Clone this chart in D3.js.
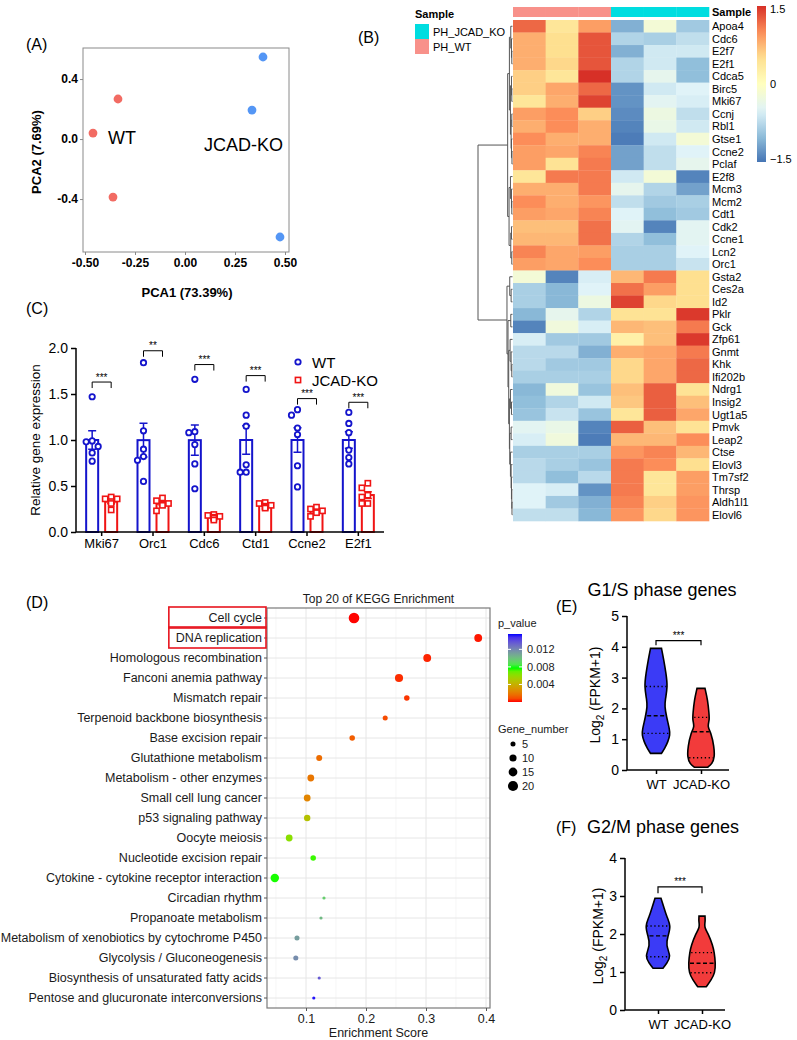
<!DOCTYPE html>
<html>
<head>
<meta charset="utf-8">
<script src="https://cdn.jsdelivr.net/npm/d3@7"></script>
<style>
body { margin: 0; background: #fff; }
svg { display: block; font-family: "Liberation Sans", Arial, sans-serif; }
</style>
</head>
<body>
<svg width="797" height="1040"></svg>
<script>
// ---------------- data ----------------
// (A) PCA scores
let pcaWT_pc1 = [-0.46, -0.335, -0.36];
let pcaWT_pc2 = [0.04, 0.267, -0.387];
let pcaKO_pc1 = [0.39, 0.335, 0.475];
let pcaKO_pc2 = [0.547, 0.193, -0.653];
let pcaTicksX = [-0.5, -0.25, 0, 0.25, 0.5];
let pcaTicksY = [-0.4, 0, 0.4];

// (B) heatmap (z-scores), columns: WT x3, KO x3
let hmGenes = ["Apoa4","Cdc6","E2f7","E2f1","Cdca5","Birc5","Mki67","Ccnj","Rbl1","Gtse1",
  "Ccne2","Pclaf","E2f8","Mcm3","Mcm2","Cdt1","Cdk2","Ccne1","Lcn2","Orc1",
  "Gsta2","Ces2a","Id2","Pklr","Gck","Zfp61","Gnmt","Khk","Ifi202b","Ndrg1",
  "Insig2","Ugt1a5","Pmvk","Leap2","Ctse","Elovl3","Tm7sf2","Thrsp","Aldh1l1","Elovl6"];
let hmSamples = ["PH_WT","PH_WT","PH_WT","PH_JCAD_KO","PH_JCAD_KO","PH_JCAD_KO"];
let hmValues = [
  [1.2, 0.4, 0.9, -1.1, -0.2, -0.9],
  [0.8, 0.5, 1.3, -0.8, -0.85, -0.7],
  [0.8, 0.5, 1.3, -1.1, -0.6, -0.6],
  [0.8, 0.55, 1.3, -0.8, -0.6, -1.0],
  [0.6, 0.4, 1.5, -0.8, -0.4, -1.0],
  [0.6, 0.85, 1.2, -1.3, -0.6, -0.5],
  [0.4, 0.8, 1.4, -1.3, -0.45, -0.55],
  [0.9, 1.0, 0.6, -1.35, -0.3, -0.7],
  [0.8, 1.0, 0.8, -1.4, -0.35, -0.6],
  [1.0, 0.8, 0.8, -1.45, -0.6, -0.2],
  [0.9, 0.85, 1.05, -1.2, -0.7, -0.5],
  [0.9, 0.45, 1.1, -1.2, -0.7, -0.4],
  [0.4, 1.1, 1.1, -0.6, -0.2, -1.4],
  [0.8, 0.8, 1.1, -0.4, -0.8, -1.2],
  [1.0, 0.8, 0.95, -0.7, -0.9, -0.85],
  [0.9, 0.85, 1.05, -0.5, -1.0, -0.9],
  [0.7, 0.7, 1.15, -0.45, -1.4, -0.45],
  [0.75, 0.75, 1.15, -0.8, -1.0, -0.45],
  [1.05, 0.85, 0.9, -0.85, -0.85, -0.5],
  [0.9, 0.85, 1.0, -0.85, -0.85, -0.65],
  [-0.2, -1.4, -0.55, 0.75, 1.1, 0.5],
  [-0.85, -1.05, -0.5, 1.15, 0.9, 0.5],
  [-0.85, -1.05, -0.3, 1.4, 0.55, 0.5],
  [-1.05, -0.4, -0.8, 0.45, 0.45, 1.45],
  [-1.4, -0.25, -0.55, 0.75, 0.7, 1.1],
  [-0.55, -0.9, -0.9, 0.25, 0.7, 1.45],
  [-0.75, -0.75, -1.1, 0.8, 0.85, 1.1],
  [-0.75, -0.9, -0.9, 0.55, 0.85, 1.2],
  [-0.85, -0.85, -0.85, 0.55, 0.85, 1.2],
  [-1.05, -0.25, -0.95, 0.7, 1.25, 0.45],
  [-1.0, -0.8, -0.6, 0.65, 1.25, 0.7],
  [-0.95, -0.65, -0.95, 0.4, 1.25, 0.85],
  [-0.45, -0.35, -1.4, 1.25, 0.7, 0.45],
  [-0.55, -0.25, -1.45, 0.75, 0.75, 1.0],
  [-0.85, -0.85, -0.85, 0.95, 1.05, 0.75],
  [-0.75, -0.85, -0.95, 1.1, 1.0, 0.5],
  [-0.75, -1.0, -0.75, 1.1, 0.4, 0.9],
  [-0.5, -0.55, -1.3, 1.1, 0.4, 0.9],
  [-0.5, -0.9, -1.1, 1.05, 0.6, 0.95],
  [-0.7, -0.7, -1.05, 0.95, 0.55, 0.95]
];
// row dendrogram: [height, left, right]
let hmTreeTop = [1.4,
  [0.9,
    [0.5, "Apoa4", [0.3, "Cdc6", [0.2, "E2f7", "E2f1"]]],
    [0.6, [0.3, "Cdca5", [0.2, "Birc5", "Mki67"]],
          [0.4, [0.2, "Ccnj", "Rbl1"], [0.3, "Gtse1", [0.15, "Ccne2", "Pclaf"]]]]],
  [1.0,
    [0.6, "E2f8", [0.3, "Mcm3", [0.2, "Mcm2", "Cdt1"]]],
    [0.5, [0.3, "Cdk2", "Ccne1"], [0.2, "Lcn2", "Orc1"]]]];
let hmTreeBottom = [1.6,
  [0.8, "Gsta2", [0.4, "Ces2a", "Id2"]],
  [1.3,
    [0.5, "Pklr", "Gck"],
    [1.1,
      [0.7, "Zfp61", [0.4, "Gnmt", [0.2, "Khk", "Ifi202b"]]],
      [0.9,
        [0.6, "Ndrg1", [0.3, "Insig2", "Ugt1a5"]],
        [0.8, [0.4, "Pmvk", "Leap2"],
              [0.6, "Ctse", [0.4, "Elovl3", [0.3, "Tm7sf2", [0.2, "Thrsp", [0.15, "Aldh1l1", "Elovl6"]]]]]]]]]];
let hmTree = [10, hmTreeTop, hmTreeBottom];

// (C) qPCR relative expression
let qpcrGenes = ["Mki67", "Orc1", "Cdc6", "Ctd1", "Ccne2", "E2f1"];
let qpcrWT = [
  [1.47, 0.99, 0.98, 0.93, 0.86, 0.77],
  [1.84, 1.10, 0.90, 0.82, 0.78, 0.55],
  [1.66, 1.09, 1.08, 0.95, 0.74, 0.47],
  [1.55, 1.27, 1.15, 0.73, 0.65, 0.65],
  [1.33, 1.27, 1.13, 1.06, 0.72, 0.49],
  [1.30, 1.18, 1.08, 0.89, 0.81, 0.74]
];
let qpcrKO = [
  [0.38, 0.36, 0.36, 0.33, 0.31, 0.24],
  [0.37, 0.34, 0.31, 0.30, 0.29, 0.23],
  [0.19, 0.18, 0.17, 0.16, 0.15, 0.13],
  [0.32, 0.31, 0.29, 0.28, 0.27, 0.26],
  [0.27, 0.25, 0.23, 0.22, 0.21, 0.17],
  [0.53, 0.48, 0.40, 0.38, 0.31, 0.31]
];
let qpcrSig = ["***", "**", "***", "***", "***", "***"];
let qpcrSigY = [1.63, 1.97, 1.82, 1.70, 1.45, 1.41];
let qpcrTicks = [0, 0.5, 1.0, 1.5, 2.0];

// (D) KEGG enrichment
let keggTerms = ["Cell cycle", "DNA replication", "Homologous recombination", "Fanconi anemia pathway",
  "Mismatch repair", "Terpenoid backbone biosynthesis", "Base excision repair", "Glutathione metabolism",
  "Metabolism - other enzymes", "Small cell lung cancer", "p53 signaling pathway", "Oocyte meiosis",
  "Nucleotide excision repair", "Cytokine - cytokine receptor interaction", "Circadian rhythm",
  "Propanoate metabolism", "Metabolism of xenobiotics by cytochrome P450", "Glycolysis / Gluconeogenesis",
  "Biosynthesis of unsaturated fatty acids", "Pentose and glucuronate interconversions"];
let keggScore = [0.18, 0.387, 0.302, 0.255, 0.268, 0.232, 0.177, 0.122, 0.108, 0.102,
  0.102, 0.072, 0.112, 0.048, 0.13, 0.125, 0.085, 0.083, 0.122, 0.113];
let keggP = [0.00001, 0.0001, 0.0002, 0.0003, 0.0004, 0.0008, 0.0012, 0.0016, 0.0019, 0.0024,
  0.0048, 0.0062, 0.0075, 0.0077, 0.0095, 0.0102, 0.0112, 0.0118, 0.0135, 0.0153];
let keggGenes = [22, 12, 12, 13, 6, 5, 6, 7, 9, 9, 8, 9, 6, 14, 2, 2, 5, 5, 2, 2];
let keggTicksX = [0.1, 0.2, 0.3, 0.4];
let keggPTicks = [0.004, 0.008, 0.012];
let keggSizeTicks = [5, 10, 15, 20];

// (E) G1/S and (F) G2/M violins: value levels and relative density
let g1sWT_val = [0.54, 0.70, 0.92, 1.14, 1.30, 1.73, 2.06, 2.27, 2.71, 3.14, 3.57, 3.95];
let g1sWT_den = [5.5, 8.7, 12, 14, 13.7, 10.5, 8.7, 9.2, 11.7, 10, 7.8, 5.5];
let g1sKO_val = [0.09, 0.19, 0.43, 0.76, 1.19, 1.41, 1.62, 1.84, 2.27, 2.65];
let g1sKO_den = [6.7, 11, 13.7, 13, 10.3, 6.3, 8.5, 8, 6.7, 4];
let g1sWT_q = [1.19, 1.76, 2.71];
let g1sKO_q = [0.40, 1.24, 1.71];
let g2mWT_val = [1.10, 1.23, 1.40, 1.71, 1.95, 2.21, 2.46, 2.72, 2.94];
let g2mWT_den = [5, 8.7, 13.2, 7.7, 10, 13, 8.7, 5.7, 3];
let g2mKO_val = [0.61, 0.79, 0.98, 1.23, 1.51, 1.70, 1.98, 2.19, 2.32, 2.47];
let g2mKO_den = [4.2, 9.2, 13, 13.5, 12.3, 10.7, 6.7, 2, 3.3, 3];
let g2mWT_q = [1.40, 1.95, 2.21];
let g2mKO_q = [0.98, 1.23, 1.51];
let violinGroups = ["WT", "JCAD-KO"];

// ---------------- drawing ----------------
let svg = d3.select("svg");
let defs = svg.append("defs");

function label(txt, x, y, size, opts){
    let t = svg.append("text").attr("x", x).attr("y", y)
        .attr("font-size", size).attr("fill", "#000").text(txt);
    if (opts && opts.anchor) t.attr("text-anchor", opts.anchor);
    if (opts && opts.bold) t.attr("font-weight", "bold");
    return t;
}

function styleAxis(g, size, bold, color){
    g.select(".domain").remove();
    g.selectAll("text").attr("font-size", size).attr("fill", color || "#000")
        .attr("font-family", "'Liberation Sans', Arial, sans-serif")
        .attr("font-weight", bold ? "bold" : "normal");
}

/* ---- (A) PCA ---- */
function drawPCA(){
    let x = d3.scaleLinear().domain([-0.51, 0.52]).range([83, 289]);
    let y = d3.scaleLinear().domain([-0.753, 0.607]).range([252, 48]);
    let g = svg.append("g");
    g.append("rect").attr("x", 83).attr("y", 48).attr("width", 206).attr("height", 204)
        .attr("fill", "none").attr("stroke", "#8a8a8a").attr("stroke-width", 1);
    let ax = g.append("g").attr("transform", "translate(0,252)")
        .call(d3.axisBottom(x).tickValues(pcaTicksX).tickFormat(d => d.toFixed(2)).tickSize(3).tickPadding(3));
    styleAxis(ax, 12, true);
    ax.selectAll("line").attr("stroke", "#8a8a8a");
    let ay = g.append("g").attr("transform", "translate(83,0)")
        .call(d3.axisLeft(y).tickValues(pcaTicksY).tickFormat(d => d.toFixed(1)).tickSize(3).tickPadding(2));
    styleAxis(ay, 12, true);
    ay.selectAll("line").attr("stroke", "#8a8a8a");

    g.selectAll("circle.wt").data(d3.range(pcaWT_pc1.length)).enter().append("circle")
        .attr("cx", i => x(pcaWT_pc1[i])).attr("cy", i => y(pcaWT_pc2[i]))
        .attr("r", 4.4).attr("fill", "#F26B63");
    g.selectAll("circle.ko").data(d3.range(pcaKO_pc1.length)).enter().append("circle")
        .attr("cx", i => x(pcaKO_pc1[i])).attr("cy", i => y(pcaKO_pc2[i]))
        .attr("r", 4.4).attr("fill", "#5496F5");

    label("WT", 108, 144, 18);
    label("JCAD-KO", 204, 151, 18);
    label("PCA1 (73.39%)", 187, 297, 13, {anchor: "middle", bold: true});
    label("PCA2 (7.69%)", 0, 0, 13, {anchor: "middle", bold: true})
        .attr("transform", "translate(41,152) rotate(-90)");
}

/* ---- (B) heatmap ---- */
function drawHeatmap(){
    let rows = d3.scaleBand().domain(hmGenes).range([20, 521]);
    let cols = d3.scaleBand().domain(d3.range(6)).range([513, 709]);
    let color = d3.scaleLinear()
        .domain([-1.5, -1, -0.5, 0, 0.5, 1, 1.5])
        .range(["#4575B4", "#91BFDB", "#E0F3F8", "#FFFFBF", "#FEE090", "#FC8D59", "#D73027"])
        .clamp(true);
    let sampleColor = d3.scaleOrdinal().domain(["PH_JCAD_KO", "PH_WT"]).range(["#00DDE0", "#F8918A"]);
    let g = svg.append("g");

    hmValues.forEach((row, r) => {
        g.selectAll(null).data(row).enter().append("rect")
            .attr("x", (d, c) => cols(c)).attr("y", rows(hmGenes[r]))
            .attr("width", cols.bandwidth() + 0.3).attr("height", rows.bandwidth() + 0.3)
            .attr("fill", d => color(d));
    });
    // annotation bar
    g.selectAll("rect.ann").data(hmSamples).enter().append("rect")
        .attr("x", (d, i) => cols(i)).attr("y", 7)
        .attr("width", cols.bandwidth() + 0.3).attr("height", 10)
        .attr("fill", d => sampleColor(d));
    label("Sample", 712, 16, 11, {bold: true});

    // row labels
    g.selectAll("text.row").data(hmGenes).enter().append("text")
        .attr("x", 712).attr("y", d => rows(d) + rows.bandwidth() / 2 + 4)
        .attr("font-size", 11).text(d => d);

    // dendrogram
    let hx = d3.scaleLinear().domain([0, 10]).range([512.5, 478]);
    let link = g.append("g").attr("stroke", "#555").attr("stroke-width", 1).attr("fill", "none");
    function walk(node){
        if (typeof node === "string") return {y: rows(node) + rows.bandwidth() / 2, h: 0};
        let a = walk(node[1]), b = walk(node[2]), h = node[0];
        let path = d3.path();
        path.moveTo(hx(a.h), a.y); path.lineTo(hx(h), a.y);
        path.lineTo(hx(h), b.y); path.lineTo(hx(b.h), b.y);
        link.append("path").attr("d", path.toString());
        return {y: (a.y + b.y) / 2, h: h};
    }
    walk(hmTree);

    // sample legend
    label("Sample", 415, 18, 11, {bold: true});
    let legendSamples = ["PH_JCAD_KO", "PH_WT"];
    legendSamples.forEach((s, i) => {
        g.append("rect").attr("x", 415).attr("y", 24 + i * 15).attr("width", 14).attr("height", 15)
            .attr("fill", sampleColor(s));
        label(s, 433, 36 + i * 15, 11);
    });

    // colour key
    let grad = defs.append("linearGradient").attr("id", "hmGrad")
        .attr("x1", 0).attr("y1", 1).attr("x2", 0).attr("y2", 0);
    d3.range(0, 1.0001, 0.05).forEach(t => {
        grad.append("stop").attr("offset", t).attr("stop-color", color(-1.5 + 3 * t));
    });
    let ky = d3.scaleLinear().domain([-1.5, 1.5]).range([162, 6]);
    g.append("rect").attr("x", 757).attr("y", 6).attr("width", 9).attr("height", 156)
        .attr("fill", "url(#hmGrad)");
    [1.5, 0, -1.5].forEach(v => {
        label(v === 0 ? "0" : (v > 0 ? "1.5" : "\u22121.5"), 770, ky(v * 0.96) + 4, 11);
    });
}

/* ---- (C) qPCR bar chart ---- */
function drawQPCR(){
    let x = d3.scaleBand().domain(qpcrGenes).range([76, 384]);
    let y = d3.scaleLinear().domain([0, 2]).range([532, 348]);
    let blue = "#1414CC", red = "#F01414";
    let g = svg.append("g");

    qpcrGenes.forEach((gene, i) => {
        let cx = x(gene) + x.bandwidth() / 2;
        [[qpcrWT[i], cx - 9.5, blue, "c"], [qpcrKO[i], cx + 9.5, red, "s"]].forEach(([vals, bx, col, shape]) => {
            let m = d3.mean(vals), sem = d3.deviation(vals) / Math.sqrt(vals.length);
            g.append("rect").attr("x", bx - 6).attr("y", y(m)).attr("width", 12).attr("height", y(0) - y(m))
                .attr("fill", "#fff").attr("stroke", col).attr("stroke-width", 2);
            g.append("path").attr("stroke", col).attr("stroke-width", 1.5).attr("fill", "none")
                .attr("d", `M${bx},${y(m - sem)}V${y(m + sem)}M${bx - 4},${y(m + sem)}H${bx + 4}M${bx - 4},${y(m - sem)}H${bx + 4}`);
            // simple beeswarm
            let placed = [];
            vals.slice().sort((a, b) => b - a).forEach(v => {
                let py = y(v), off = 0;
                for (let k of [0, -6, 6, -3, 3, -9, 9]) {
                    if (placed.every(p => Math.hypot(p[0] - (bx + k), p[1] - py) >= 5.8)) { off = k; break; }
                }
                placed.push([bx + off, py]);
            });
            placed.forEach(p => {
                if (shape === "c") {
                    g.append("circle").attr("cx", p[0]).attr("cy", p[1]).attr("r", 2.7)
                        .attr("fill", "#fff").attr("stroke", col).attr("stroke-width", 1.8);
                } else {
                    g.append("rect").attr("x", p[0] - 2.6).attr("y", p[1] - 2.6).attr("width", 5.2).attr("height", 5.2)
                        .attr("fill", "#fff").attr("stroke", col).attr("stroke-width", 1.6);
                }
            });
        });
        // significance bracket
        let sy = y(qpcrSigY[i]);
        g.append("path").attr("stroke", "#000").attr("stroke-width", 1).attr("fill", "none")
            .attr("d", `M${cx - 9.5},${sy + 6}V${sy}H${cx + 9.5}V${sy + 6}`);
        g.append("text").attr("x", cx).attr("y", sy - 1.5).attr("text-anchor", "middle")
            .attr("font-size", 10).text(qpcrSig[i]);
    });

    let ax = g.append("g").attr("transform", "translate(0,532)")
        .call(d3.axisBottom(x).tickSize(4).tickPadding(3));
    styleAxis(ax, 13, false);
    ax.selectAll("line").attr("stroke", "#000").attr("stroke-width", 1.5);
    g.append("line").attr("x1", 76).attr("x2", 384).attr("y1", 532).attr("y2", 532)
        .attr("stroke", "#000").attr("stroke-width", 1.5);
    let ay = g.append("g").attr("transform", "translate(76,0)")
        .call(d3.axisLeft(y).tickValues(qpcrTicks).tickFormat(d3.format(".1f")).tickSize(5).tickPadding(3));
    styleAxis(ay, 14, false);
    ay.selectAll("line").attr("stroke", "#000").attr("stroke-width", 1.5);
    g.append("line").attr("x1", 76).attr("x2", 76).attr("y1", 348).attr("y2", 532)
        .attr("stroke", "#000").attr("stroke-width", 1.5);

    label("Relative gene expression", 0, 0, 13.5, {anchor: "middle"})
        .attr("transform", "translate(40,440) rotate(-90)");

    // legend
    g.append("circle").attr("cx", 298).attr("cy", 362).attr("r", 2.7)
        .attr("fill", "#fff").attr("stroke", blue).attr("stroke-width", 1.8);
    label("WT", 312, 367.5, 15);
    g.append("rect").attr("x", 295.4).attr("y", 377.4).attr("width", 5.2).attr("height", 5.2)
        .attr("fill", "#fff").attr("stroke", red).attr("stroke-width", 1.6);
    label("JCAD-KO", 312, 385.5, 15);
}

/* ---- (D) KEGG dot plot ---- */
function drawKEGG(){
    let left = 267, right = 490, top = 608, bottom = 1008;
    let x = d3.scaleLinear().domain([0.1, 0.4]).range([306, 486]);
    let y = d3.scaleBand().domain(keggTerms).range([top, bottom]);
    let pMax = 0.0155;
    let col = d3.scaleLinear().domain([0, pMax / 2, pMax]).range(["#FF0000", "#00FF00", "#0000FF"])
        .interpolate(d3.interpolateLab);
    let size = d3.scaleSqrt().domain([0, 22]).range([0, 5.3]);
    let g = svg.append("g");

    // grid
    let xmin = x.invert(left), xmax = x.invert(right);
    d3.range(0.05, 0.46, 0.05).filter(v => v > xmin && v < xmax).forEach(v => {
        let major = Math.abs(Math.round(v * 10) - v * 10) < 1e-6;
        g.append("line").attr("x1", x(v)).attr("x2", x(v)).attr("y1", top).attr("y2", bottom)
            .attr("stroke", major ? "#E6E6E6" : "#F2F2F2").attr("stroke-width", major ? 1 : 0.7);
    });
    keggTerms.forEach(t => {
        let cy = y(t) + y.bandwidth() / 2;
        g.append("line").attr("x1", left).attr("x2", right).attr("y1", cy).attr("y2", cy)
            .attr("stroke", "#E6E6E6").attr("stroke-width", 1);
    });
    g.append("rect").attr("x", left).attr("y", top).attr("width", right - left).attr("height", bottom - top)
        .attr("fill", "none").attr("stroke", "#7a7a7a").attr("stroke-width", 1.2);

    // points
    g.selectAll("circle.k").data(d3.range(keggTerms.length)).enter().append("circle")
        .attr("cx", i => x(keggScore[i])).attr("cy", i => y(keggTerms[i]) + y.bandwidth() / 2)
        .attr("r", i => size(keggGenes[i])).attr("fill", i => col(keggP[i]));

    // axes
    let ay = g.append("g").attr("transform", `translate(${left},0)`)
        .call(d3.axisLeft(y).tickSize(3).tickPadding(2));
    styleAxis(ay, 12.5, false, "#1a1a1a");
    ay.selectAll("line").attr("stroke", "#555");
    let ax = g.append("g").attr("transform", `translate(0,${bottom})`)
        .call(d3.axisBottom(x).tickValues(keggTicksX).tickFormat(d3.format(".1f")).tickSize(3).tickPadding(3));
    styleAxis(ax, 12.5, false, "#1a1a1a");
    ax.selectAll("line").attr("stroke", "#555");

    // red boxes
    let wMax = 0;
    ay.selectAll("text").filter(d => d === "Cell cycle" || d === "DNA replication")
        .each(function(){ wMax = Math.max(wMax, this.getComputedTextLength()); });
    ["Cell cycle", "DNA replication"].forEach(t => {
        g.append("rect").attr("x", left - 5 - wMax - 7).attr("y", y(t) - 1)
            .attr("width", wMax + 11).attr("height", y.bandwidth() + 1)
            .attr("fill", "none").attr("stroke", "#E8141E").attr("stroke-width", 1.6);
    });

    label("Top 20 of KEGG Enrichment", (left + right) / 2, 603, 12, {anchor: "middle"}).attr("fill", "#1a1a1a");
    label("Enrichment Score", (left + right) / 2, 1037, 12.5, {anchor: "middle"}).attr("fill", "#1a1a1a");

    // p_value legend
    label("p_value", 498, 627, 11).attr("fill", "#1a1a1a");
    let grad = defs.append("linearGradient").attr("id", "pGrad")
        .attr("x1", 0).attr("y1", 1).attr("x2", 0).attr("y2", 0);
    d3.range(0, 1.0001, 0.05).forEach(t => {
        grad.append("stop").attr("offset", t).attr("stop-color", col(t * pMax));
    });
    let py = d3.scaleLinear().domain([0, pMax]).range([702, 634]);
    g.append("rect").attr("x", 508).attr("y", 634).attr("width", 14).attr("height", 68).attr("fill", "url(#pGrad)");
    keggPTicks.forEach(v => {
        g.append("line").attr("x1", 508).attr("x2", 511).attr("y1", py(v)).attr("y2", py(v)).attr("stroke", "#fff");
        g.append("line").attr("x1", 519).attr("x2", 522).attr("y1", py(v)).attr("y2", py(v)).attr("stroke", "#fff");
        label(d3.format(".3f")(v), 527, py(v) + 4, 11).attr("fill", "#1a1a1a");
    });
    // size legend
    label("Gene_number", 498, 733, 11).attr("fill", "#1a1a1a");
    keggSizeTicks.forEach((v, i) => {
        g.append("circle").attr("cx", 513).attr("cy", 744 + i * 14).attr("r", size(v)).attr("fill", "#000");
        label(String(v), 522, 748 + i * 14, 11).attr("fill", "#1a1a1a");
    });
}

/* ---- (E)/(F) violins ---- */
function drawViolinPanel(opt){
    let g = svg.append("g");
    let y = d3.scaleLinear().domain([0, opt.max]).range([opt.y0, opt.y1]);
    let x = d3.scalePoint().domain(violinGroups).range([opt.xa, opt.xb]);
    let w = d3.scaleLinear().domain([0, 14]).range([0, 14]);
    opt.violins.forEach((v, i) => {
        let cx = x(violinGroups[i]);
        let pts = v.val.map((d, k) => ({v: d, d: v.den[k]}));
        let area = d3.area().curve(d3.curveBasis)
            .y(d => y(d.v)).x0(d => cx - w(d.d)).x1(d => cx + w(d.d));
        g.append("path").attr("d", area(pts)).attr("fill", v.fill)
            .attr("stroke", "#000").attr("stroke-width", 1.6);
        let dens = d3.scaleLinear().domain(v.val).range(v.den);
        v.q.forEach((q, k) => {
            let hw = w(dens(q)) - 1.5;
            g.append("line").attr("x1", cx - hw).attr("x2", cx + hw).attr("y1", y(q)).attr("y2", y(q))
                .attr("stroke", "#000").attr("stroke-width", 1.4)
                .attr("stroke-dasharray", k === 1 ? "4,2.5" : "1.3,2.6");
        });
    });
    let ay = g.append("g").attr("transform", `translate(${opt.ax},0)`)
        .call(d3.axisLeft(y).ticks(opt.max).tickFormat(d3.format("d")).tickSize(5).tickPadding(3));
    styleAxis(ay, 14, false);
    ay.selectAll("line").attr("stroke", "#000").attr("stroke-width", 1.5);
    g.append("line").attr("x1", opt.ax).attr("x2", opt.ax).attr("y1", opt.y1).attr("y2", opt.y0)
        .attr("stroke", "#000").attr("stroke-width", 1.5);
    let ax = g.append("g").attr("transform", `translate(0,${opt.y0})`)
        .call(d3.axisBottom(x).tickSize(4).tickPadding(6));
    styleAxis(ax, 13, false);
    ax.selectAll("line").attr("stroke", "#000").attr("stroke-width", 1.5);
    g.append("line").attr("x1", opt.ax).attr("x2", opt.axEnd).attr("y1", opt.y0).attr("y2", opt.y0)
        .attr("stroke", "#000").attr("stroke-width", 1.5);

    // significance
    let sy = y(opt.sig), sy2 = y(opt.sig - opt.sigDrop);
    g.append("path").attr("fill", "none").attr("stroke", "#000").attr("stroke-width", 1.2)
        .attr("d", `M${x("WT")},${sy2}V${sy}H${x("JCAD-KO")}V${sy2}`);
    g.append("text").attr("x", (x("WT") + x("JCAD-KO")) / 2).attr("y", sy - 2)
        .attr("text-anchor", "middle").attr("font-size", 10).text("***");

    // axis title with subscript
    let t = g.append("text").attr("transform", `translate(${opt.titleX},${(opt.y0 + opt.y1) / 2 + 2}) rotate(-90)`)
        .attr("text-anchor", "middle").attr("font-size", 14);
    t.append("tspan").text("Log");
    t.append("tspan").attr("font-size", 10).attr("dy", 4).text("2");
    t.append("tspan").attr("dy", -4).text(" (FPKM+1)");
}

drawPCA();
drawHeatmap();
drawQPCR();
drawKEGG();

drawViolinPanel({max: 5, y0: 770, y1: 616, ax: 627, axEnd: 729, xa: 656, xb: 701, titleX: 600,
    sig: 4.2, sigDrop: 0.15,
    violins: [
        {val: g1sWT_val, den: g1sWT_den, q: g1sWT_q, fill: "#3B3BF6"},
        {val: g1sKO_val, den: g1sKO_den, q: g1sKO_q, fill: "#F23B3B"}
    ]});
drawViolinPanel({max: 4, y0: 1010, y1: 858, ax: 625, axEnd: 725, xa: 658, xb: 702, titleX: 603,
    sig: 3.24, sigDrop: 0.17,
    violins: [
        {val: g2mWT_val, den: g2mWT_den, q: g2mWT_q, fill: "#3B3BF6"},
        {val: g2mKO_val, den: g2mKO_den, q: g2mKO_q, fill: "#F23B3B"}
    ]});

label("G1/S phase genes", 662, 596, 18, {anchor: "middle"});
label("G2/M phase genes", 663, 833, 18, {anchor: "middle"});

// panel letters
label("(A)", 26, 50, 16);
label("(B)", 358, 43, 16);
label("(C)", 26, 314, 16);
label("(D)", 26, 608, 16);
label("(E)", 556, 612, 16);
label("(F)", 556, 833, 16);
</script>
</body>
</html>
